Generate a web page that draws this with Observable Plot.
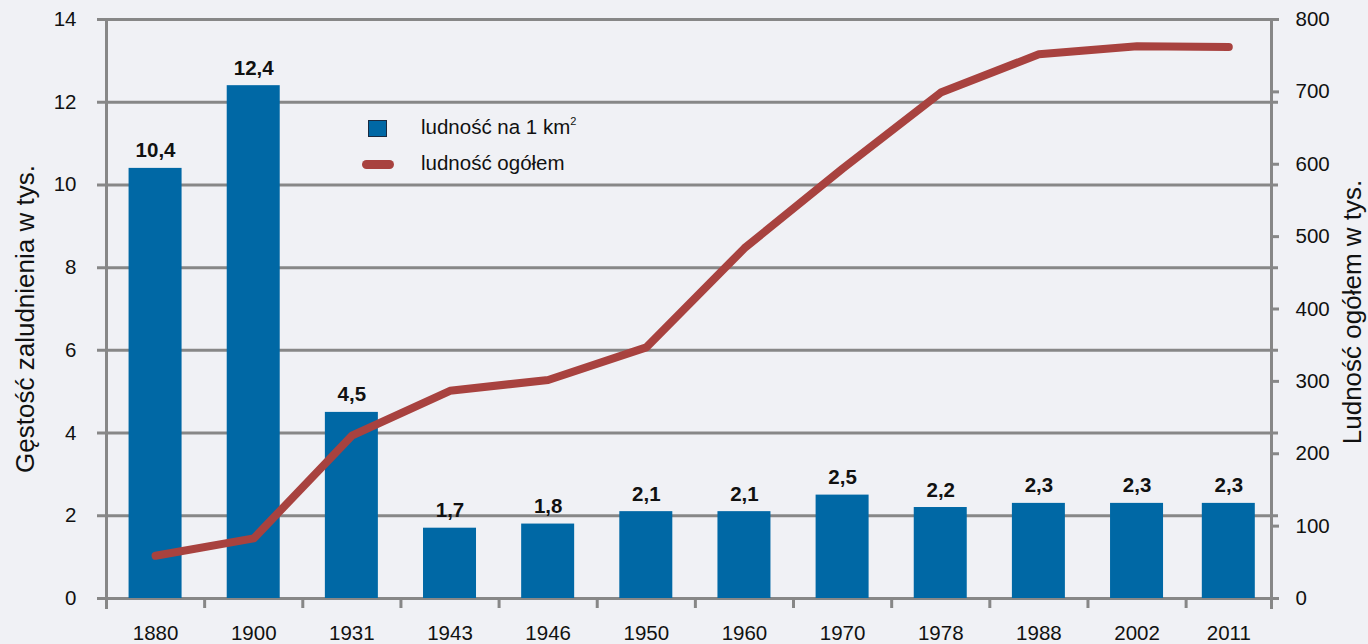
<!DOCTYPE html>
<html>
<head>
<meta charset="utf-8">
<script src="https://cdn.jsdelivr.net/npm/d3@7"></script>
<script src="https://cdn.jsdelivr.net/npm/@observablehq/plot@0.6"></script>
<style>
  html, body { margin: 0; padding: 0; background: #f0f1f5; }
  #wrap { position: relative; width: 1368px; height: 644px; font-family: Arial, "Liberation Sans", sans-serif; color: #111; }
  #legend { position: absolute; left: 360px; top: 112px; font-size: 20.5px; }
  .sq { position: absolute; left: 8px; top: 8px; width: 17px; height: 15px; background: #0068a5; border: 1px solid #1a2a40; }
  .ln { position: absolute; left: 2px; top: 48px; width: 32px; height: 9px; border-radius: 4.5px; background: #a8423f; }
  .t { position: absolute; left: 61px; white-space: nowrap; line-height: 1; }
  sup { font-size: 11px; vertical-align: 9px; }
  .title { position: absolute; font-size: 26px; white-space: nowrap; line-height: 1; transform: translate(-50%, -50%) rotate(-90deg); }
</style>
</head>
<body>
<div id="wrap">
  <div id="chart"></div>
  <div class="title" style="left:25px; top:319px">Gęstość zaludnienia w tys.</div>
  <div class="title" style="left:1352px; top:312px">Ludność ogółem w tys.</div>
  <div id="legend">
    <div class="sq"></div><div class="t" style="top:4px">ludność na 1 km<sup>2</sup></div>
    <div class="ln"></div><div class="t" style="top:41px">ludność ogółem</div>
  </div>
</div>
<script>
const years = ["1880","1900","1931","1943","1946","1950","1960","1970","1978","1988","2002","2011"];
const density = [10.4, 12.4, 4.5, 1.7, 1.8, 2.1, 2.1, 2.5, 2.2, 2.3, 2.3, 2.3];
const population = [59, 83, 225, 287, 302, 347, 484, 594, 699, 752, 763, 762];
const leftTicks = [0, 2, 4, 6, 8, 10, 12, 14];
const rightTicks = [0, 100, 200, 300, 400, 500, 600, 700, 800];

const popMax = 800, denMax = 14;
const xEnd = 11.87; // the last category slot is cut short by the right axis, as in the original
const toLeft = v => v * denMax / popMax;
const fmt = v => String(v).replace(".", ",");

const data = years.map((y, i) => ({i, year: y, density: density[i], pop: population[i]}));
const grey = "#878787";

const chart = Plot.plot({
  width: 1368, height: 644,
  marginLeft: 106, marginRight: 97, marginTop: 19, marginBottom: 46,
  x: {type: "linear", domain: [0, xEnd]},
  y: {domain: [0, denMax]},
  style: {background: "transparent", fontFamily: "Arial, 'Liberation Sans', sans-serif", color: "#111"},
  marks: [
    Plot.ruleY(leftTicks, {stroke: grey, strokeWidth: 3, insetLeft: -9, insetRight: -7}),
    Plot.ruleX([0, xEnd], {stroke: grey, strokeWidth: 3, insetBottom: -11}),
    Plot.axisX([...d3.range(years.length), xEnd], {tickSize: 10, tickFormat: () => "", stroke: grey, strokeWidth: 3, label: null}),
    Plot.axisX(data.map(d => Math.min(d.i + 0.5, (d.i + xEnd) / 2)), {tickSize: 0, tickPadding: 27, fontSize: 20.5, tickFormat: v => years[Math.floor(v)], label: null}),
    Plot.axisY(leftTicks, {anchor: "left", tickSize: 0, tickPadding: 30, fontSize: 20.5, tickFormat: d => d, label: null}),
    Plot.axisY(rightTicks.map(toLeft), {anchor: "right", tickSize: 7, tickPadding: 17, fontSize: 20.5, stroke: grey, strokeWidth: 3,
      tickFormat: d => Math.round(d * popMax / denMax), label: null}),
    Plot.rectY(data, {x1: d => Math.min(d.i + 0.5, (d.i + xEnd) / 2) - 0.27, x2: d => Math.min(d.i + 0.5, (d.i + xEnd) / 2) + 0.27, y: "density", fill: "#0068a5"}),
    Plot.text(data, {x: d => Math.min(d.i + 0.5, (d.i + xEnd) / 2), y: "density", text: d => fmt(d.density), lineAnchor: "bottom", dy: -11, fontSize: 20.5, fontWeight: "bold", fill: "#111"}),
    Plot.line(data, {x: d => Math.min(d.i + 0.5, (d.i + xEnd) / 2), y: d => toLeft(d.pop), stroke: "#a8423f", strokeWidth: 8, strokeLinecap: "round", strokeLinejoin: "round"})
  ]
});
document.getElementById("chart").appendChild(chart);
</script>
</body>
</html>
